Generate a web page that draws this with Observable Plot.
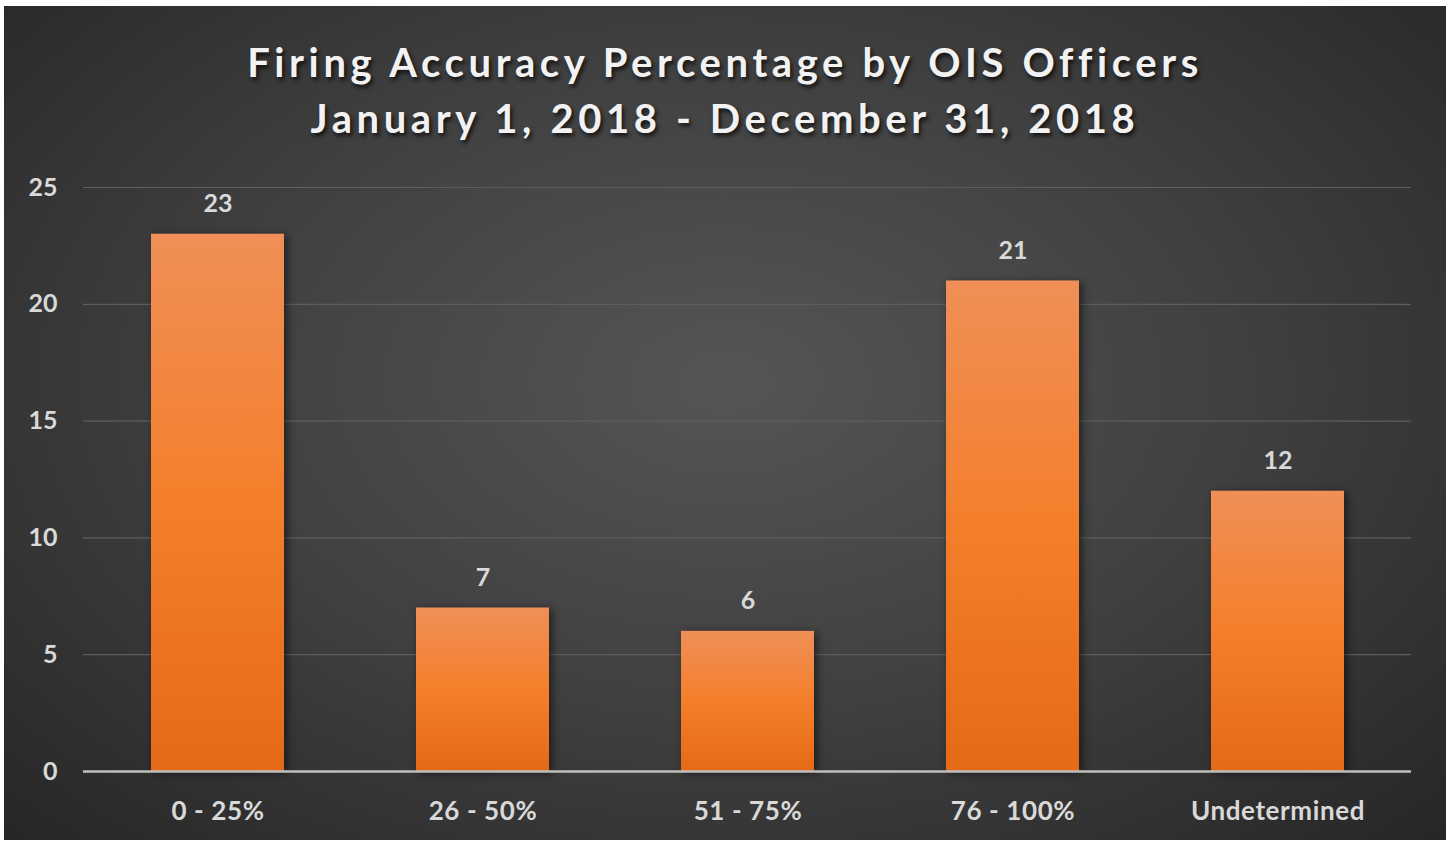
<!DOCTYPE html>
<html>
<head>
<meta charset="utf-8">
<script src="https://cdn.jsdelivr.net/npm/d3@7"></script>
<script src="https://cdn.jsdelivr.net/npm/@observablehq/plot@0.6"></script>
<style>
  html, body { margin: 0; padding: 0; background: #ffffff; }
  #wrap { position: relative; width: 1450px; height: 842px; overflow: hidden; background: #fff; }
  #panel { position: absolute; left: 4px; top: 6px; width: 1442px; height: 834px;
    background: radial-gradient(ellipse at 50% 45%, #555555 0%, #404040 50%, #262626 100%); }
  #title { position: absolute; left: 0; top: 34px; width: 1450px; text-align: center;
    font-family: Lato, "Open Sans", sans-serif; font-weight: 700; font-size: 40px; line-height: 56px;
    letter-spacing: 4.6px; color: #f2f2f2; text-shadow: 2px 3px 4px rgba(0,0,0,0.75); }
  #chart { position: absolute; left: 0; top: 0; }
</style>
</head>
<body>
<div id="wrap">
  <div id="panel"></div>
  <div id="title">Firing Accuracy Percentage by OIS Officers<br>January 1, 2018 - December 31, 2018</div>
  <div id="chart"></div>
</div>
<script>
const categories = ["0 - 25%", "26 - 50%", "51 - 75%", "76 - 100%", "Undetermined"];
const counts = [23, 7, 6, 21, 12];
const yTicks = [0, 5, 10, 15, 20, 25];

const data = categories.map((c, i) => ({category: c, count: counts[i]}));

const plot = Plot.plot({
  width: 1450,
  height: 842,
  marginLeft: 83,
  marginRight: 39,
  marginTop: 187,
  marginBottom: 71,
  style: {background: "transparent", fontFamily: "Lato, 'Open Sans', sans-serif", fontSize: "25px", fontWeight: 700, color: "#d9d9d9", overflow: "visible"},
  x: {domain: categories, paddingInner: 0.5, paddingOuter: 0.25, label: null, tickSize: 0, tickPadding: 30},
  y: {domain: [0, 25], ticks: yTicks, label: null, tickSize: 0, tickPadding: 26},
  marks: [
    Plot.gridY(yTicks.filter(d => d > 0), {stroke: "#5e5e5e", strokeOpacity: 1, strokeWidth: 1.2}),
    Plot.barY(data, {x: "category", y: "count", fill: "url(#barGrad)"}),
    Plot.ruleY([0], {stroke: "#bfbfbf", strokeWidth: 2.5}),
    Plot.text(data, {x: "category", y: "count", text: d => String(d.count), dy: -30, fill: "#d9d9d9", fontSize: 25, fontWeight: 700})
  ]
});

const defs = d3.select(plot).insert("defs", ":first-child");
const g = defs.append("linearGradient").attr("id", "barGrad").attr("x1", 0).attr("y1", 0).attr("x2", 0).attr("y2", 1);
g.append("stop").attr("offset", "0%").attr("stop-color", "#f08f57");
g.append("stop").attr("offset", "50%").attr("stop-color", "#f47f2b");
g.append("stop").attr("offset", "100%").attr("stop-color", "#e56a17");

d3.select(plot).selectAll("[aria-label='bar'] rect").style("filter", "drop-shadow(3px 2px 4px rgba(0,0,0,0.55))");
d3.select(plot).selectAll("[aria-label='x-axis tick label'] text").style("font-size", "26px").style("letter-spacing", "0.6px");

document.getElementById("chart").appendChild(plot);
</script>
</body>
</html>
